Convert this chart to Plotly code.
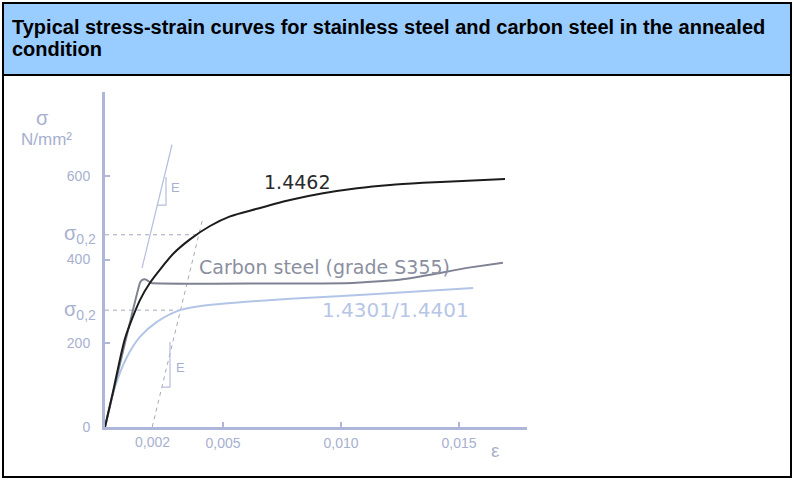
import plotly.graph_objects as go

# page size, and where the origin / scale of the diagram sit in pixels
W, H = 794, 480
X0_PX, Y0_PX = 105, 427
PX_PER_STRAIN = 23600.0      # px per unit strain
PX_PER_MPA = 0.41875         # px per N/mm2
X_MAX, Y_MAX = 0.0179, 800

# curves (strain, stress N/mm2)
strain_14462 = [0, 0.00034, 0.00085, 0.00148, 0.0019, 0.00288, 0.0036, 0.00445, 0.0053, 0.00644,
                0.00784, 0.00924, 0.01068, 0.01208, 0.01347, 0.01492, 0.01695]
stress_14462 = [0, 84, 212, 303, 344, 413, 448, 480, 503, 521, 542, 558, 570, 578, 583, 587, 592]

strain_14301 = [0, 0.00042, 0.00093, 0.00148, 0.0022, 0.00318, 0.00432, 0.00572, 0.00784, 0.01165, 0.0156]
stress_14301 = [0, 95, 167, 215, 251, 279, 291, 298, 306, 318, 332]

strain_s355 = [0, 0.00148, 0.00157, 0.0017, 0.00182, 0.00195, 0.0105, 0.01237, 0.0142, 0.01534, 0.01686]
stress_s355 = [0, 344, 351, 353, 349, 344, 344, 351, 368, 380, 392]

# 0.2% proof stresses and the offset line
sigma02_14462 = 459
sigma02_14301 = 279
sigma02_strain = [0.0039, 0.0032]
offset_strain = [0.002, 0.00415]
offset_stress = [0, 500]

# elastic modulus sketches
e_line_strain = [0.00157, 0.00284]
e_line_stress = [380, 674]
e_tri_upper_strain = [0.0022, 0.002585, 0.002585]
e_tri_upper_stress = [530, 530, 597]
e_tri_lower_strain = [0.002415, 0.002754, 0.002754]
e_tri_lower_stress = [95, 95, 203]

x_ticks = [0.005, 0.010, 0.015]
x_ticktext = ["0,005", "0,010", "0,015"]
y_ticks = [0, 200, 400, 600]
y_ticktext = ["0", "200", "400", "600"]

AXIS = "#AEB7DA"
LABEL = "#A7B0CF"
DASH = "#A3A8BE"
BLACK = "#1C1C1C"
GREY = "#7E8293"
LIGHT = "#B2C5E7"
FONT = "Liberation Sans, Arial, sans-serif"
WIDE = "DejaVu Sans, sans-serif"


def paper_x(strain):
    return (X0_PX + strain * PX_PER_STRAIN) / W


def paper_y(stress):
    return 1 - (Y0_PX - stress * PX_PER_MPA) / H


fig = go.Figure()

# dashed construction lines
fig.add_trace(go.Scatter(x=[0, sigma02_strain[0]], y=[sigma02_14462] * 2, mode="lines",
                         line=dict(color=DASH, width=1, dash="4px,4px")))
fig.add_trace(go.Scatter(x=[0, sigma02_strain[1]], y=[sigma02_14301] * 2, mode="lines",
                         line=dict(color=DASH, width=1, dash="4px,4px")))
fig.add_trace(go.Scatter(x=offset_strain, y=offset_stress, mode="lines",
                         line=dict(color=DASH, width=1, dash="4px,4px")))

# E sketches
fig.add_trace(go.Scatter(x=e_line_strain, y=e_line_stress, mode="lines",
                         line=dict(color="#B5BDDC", width=1.2)))
fig.add_trace(go.Scatter(x=e_tri_upper_strain, y=e_tri_upper_stress, mode="lines",
                         line=dict(color="#B5BDDC", width=1.2)))
fig.add_trace(go.Scatter(x=e_tri_lower_strain, y=e_tri_lower_stress, mode="lines",
                         line=dict(color="#B5BDDC", width=1.2)))

# curves
fig.add_trace(go.Scatter(x=strain_14301, y=stress_14301, mode="lines",
                         line=dict(color=LIGHT, width=2, shape="spline", smoothing=0.8)))
fig.add_trace(go.Scatter(x=strain_s355, y=stress_s355, mode="lines",
                         line=dict(color=GREY, width=2, shape="spline", smoothing=0.3)))
fig.add_trace(go.Scatter(x=strain_14462, y=stress_14462, mode="lines",
                         line=dict(color=BLACK, width=2, shape="spline", smoothing=0.7)))

# axis arrow heads
fig.add_trace(go.Scatter(x=[0], y=[805], mode="markers", cliponaxis=False,
                         marker=dict(symbol="triangle-up", size=14, color=AXIS)))
fig.add_trace(go.Scatter(x=[0.017945], y=[0], mode="markers", cliponaxis=False,
                         marker=dict(symbol="triangle-right", size=13, color=AXIS)))


# labels, placed in paper coordinates so the ones beside the axes are not dropped
def note(x, y, text, size, color, family=FONT, xanchor="center"):
    fig.add_annotation(xref="paper", yref="paper", x=paper_x(x), y=paper_y(y), text=text,
                       showarrow=False, xanchor=xanchor, yanchor="middle",
                       font=dict(family=family, size=size, color=color))


note(0.00812, 586, "1.4462", 19, "#2A2A2A", WIDE)
note(0.00932, 383, "Carbon steel (grade S355)", 19, "#8B8FA0", WIDE)
note(0.01233, 280, "1.4301/1.4401", 20, "#B7C6E6", WIDE)
note(0.0030, 573, "E", 13, LABEL)
note(0.00322, 141, "E", 13, LABEL)
note(0.01653, -55, "ε", 19, LABEL)
note(-0.00265, 738, "σ", 20, LABEL)
note(-0.00246, 686, "N/mm²", 17, LABEL)
note(-0.0003, sigma02_14462, "σ<sub>0,2</sub>", 20, LABEL, xanchor="right")
note(-0.0003, sigma02_14301, "σ<sub>0,2</sub>", 20, LABEL, xanchor="right")
note(0.002, -37, "0,002", 14, LABEL)

# title box and frame
fig.add_shape(type="rect", xref="paper", yref="paper", layer="below",
              x0=3 / W, x1=791 / W, y0=1 - 75 / H, y1=1 - 3 / H,
              fillcolor="#99CCFF", line=dict(color="black", width=2))
fig.add_shape(type="rect", xref="paper", yref="paper", layer="below",
              x0=3 / W, x1=791 / W, y0=1 - 477 / H, y1=1 - 75 / H,
              line=dict(color="black", width=2))
title_lines = ["Typical stress-strain curves for stainless steel and carbon steel in the annealed",
               "condition"]
for i, line in enumerate(title_lines):
    fig.add_annotation(xref="paper", yref="paper", x=10 / W, y=1 - (27 + 22 * i) / H,
                       xanchor="left", yanchor="middle", showarrow=False,
                       text="<b>" + line + "</b>",
                       font=dict(family=FONT, size=20, color="black"))

fig.update_layout(
    width=W, height=H,
    margin=dict(l=0, r=0, t=0, b=0, pad=0, autoexpand=False),
    paper_bgcolor="white", plot_bgcolor="white",
    showlegend=False,
    xaxis=dict(domain=[paper_x(0), paper_x(X_MAX)], range=[0, X_MAX], showgrid=False, zeroline=False,
               automargin=False, showline=True, linecolor=AXIS, linewidth=3,
               tickvals=x_ticks, ticktext=x_ticktext, ticks="inside", ticklen=5,
               tickwidth=2, tickcolor=AXIS, ticklabelstandoff=1,
               tickfont=dict(family=FONT, size=14, color=LABEL)),
    yaxis=dict(domain=[paper_y(0), paper_y(Y_MAX)], range=[0, Y_MAX], showgrid=False, zeroline=False,
               automargin=False, showline=True, linecolor=AXIS, linewidth=3,
               tickvals=y_ticks, ticktext=y_ticktext, ticks="inside", ticklen=5,
               tickwidth=2, tickcolor=AXIS, ticklabelstandoff=9,
               tickfont=dict(family=FONT, size=14, color=LABEL)),
)

# no body margin or scrollbars, so the 794x480 figure sits at the window's corner
page_js = ("document.body.style.margin='0px';"
           "document.documentElement.style.overflow='hidden';")
fig.write_html("out.html", config={"displayModeBar": False}, post_script=page_js)
